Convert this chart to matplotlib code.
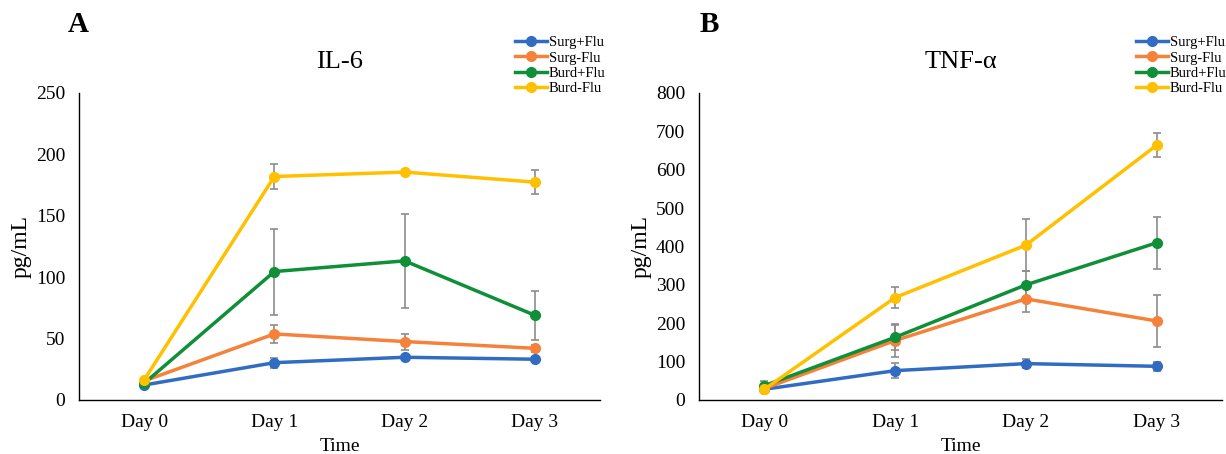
import matplotlib
matplotlib.use('Agg')
import matplotlib.pyplot as plt
from matplotlib.lines import Line2D

plt.rcParams['font.family'] = ['Liberation Serif', 'DejaVu Serif']

# 数据
days = ['Day 0', 'Day 1', 'Day 2', 'Day 3']
groups = ['Surg+Flu', 'Surg-Flu', 'Burd+Flu', 'Burd-Flu']
colors = ['#2F6CC2', '#F5823A', '#0E8F38', '#FFC000']

il6_mean = [
    [12.2, 30.4, 34.8, 33.2],
    [15.5, 53.8, 47.6, 42.1],
    [13.6, 104.6, 113.3, 69.0],
    [16.3, 182.0, 185.6, 177.4],
]
il6_err = [
    [1.5, 4.0, 2.0, 2.0],
    [1.5, 7.0, 6.5, 3.0],
    [1.5, 35.0, 38.5, 20.0],
    [1.5, 10.0, 2.0, 9.5],
]

tnf_mean = [
    [28.0, 76.5, 94.8, 87.8],
    [30.0, 155.0, 263.5, 206.0],
    [37.4, 163.5, 300.0, 409.6],
    [28.0, 267.0, 403.5, 664.0],
]
tnf_err = [
    [8.0, 20.0, 12.0, 12.0],
    [8.0, 43.0, 35.0, 68.0],
    [12.0, 32.0, 36.0, 68.0],
    [6.0, 27.0, 67.0, 31.0],
]

fig = plt.figure(figsize=(12.26, 4.54), dpi=100)


def draw(ax, means, errs, ymax, step, title, legend_x):
    x = range(len(days))
    handles = []
    for m, e, c, g in zip(means, errs, colors, groups):
        ax.errorbar(x, m, yerr=e, color=c, lw=2.5, marker='o', ms=7,
                    ecolor='#8C8C8C', elinewidth=1.2, capsize=3, capthick=1.2,
                    zorder=3)
        handles.append(Line2D([], [], color=c, lw=2.5, marker='o', ms=7, label=g))
    ax.set_xlim(-0.5, 3.5)
    ax.set_ylim(0, ymax)
    ax.set_yticks(range(0, ymax + 1, step))
    ax.set_xticks(list(x))
    ax.set_xticklabels(days)
    ax.tick_params(length=0, labelsize=14, pad=10)
    for s in ['top', 'right']:
        ax.spines[s].set_visible(False)
    ax.spines['left'].set_linewidth(1.0)
    ax.spines['bottom'].set_linewidth(1.0)
    ax.set_xlabel('Time', fontsize=14, labelpad=5)
    ax.set_ylabel('pg/mL', fontsize=17, labelpad=3)
    ax.set_title(title, fontsize=19, pad=18)
    fig.legend(handles=handles, loc='upper left',
               bbox_to_anchor=(legend_x, 1 - 36 / 454), frameon=False,
               fontsize=10.5, handlelength=2.2, handletextpad=0.1,
               labelspacing=0.15, borderpad=0, borderaxespad=0)


ax1 = fig.add_axes([79 / 1226, 1 - 400 / 454, 521 / 1226, 307 / 454])
draw(ax1, il6_mean, il6_err, 250, 50, 'IL-6', 515 / 1226)

ax2 = fig.add_axes([699 / 1226, 1 - 400 / 454, 523 / 1226, 307 / 454])
draw(ax2, tnf_mean, tnf_err, 800, 100, 'TNF-α', 1136 / 1226)

fig.text(68 / 1226, 1 - 25 / 454, 'A', fontsize=21, fontweight='bold', va='center')
fig.text(700 / 1226, 1 - 25 / 454, 'B', fontsize=21, fontweight='bold', va='center')

fig.savefig('out.png', dpi=100)
